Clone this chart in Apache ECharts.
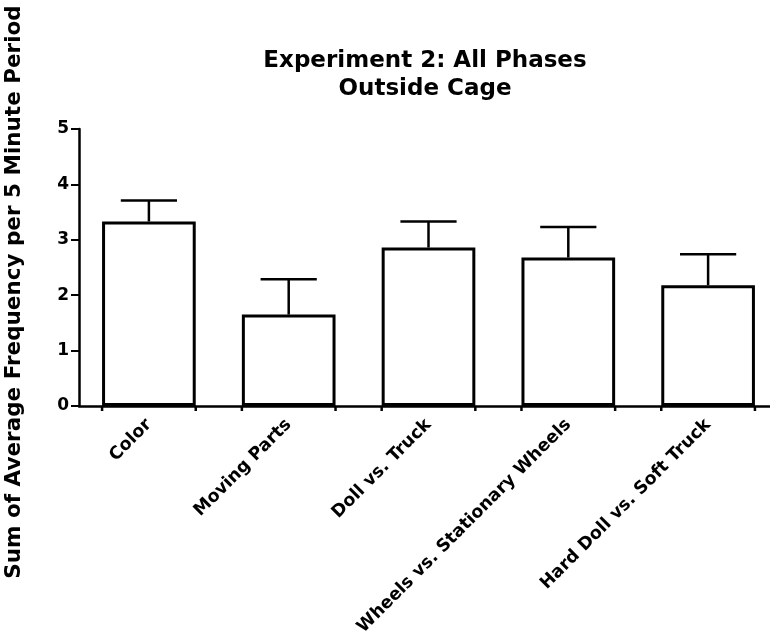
<!DOCTYPE html>
<html>
<head>
<meta charset="utf-8">
<script src="https://cdn.jsdelivr.net/npm/echarts@6/dist/echarts.min.js"></script>
<style>
  html, body { margin: 0; padding: 0; background: #fff; }
  #chart { width: 770px; height: 639px; }
</style>
</head>
<body>
<div id="chart"></div>
<script>
const categories = ["Color", "Moving Parts", "Doll vs. Truck", "Wheels vs. Stationary Wheels", "Hard Doll vs. Soft Truck"];
const means = [3.33, 1.65, 2.86, 2.68, 2.18];
const sems = [0.38, 0.64, 0.47, 0.55, 0.56];
const yTicks = [0, 1, 2, 3, 4, 5];

const font = "DejaVu Sans";
const barRatio = 0.67;

const chart = echarts.init(document.getElementById("chart"), null, { renderer: "canvas" });

chart.setOption({
  animation: false,
  backgroundColor: "#fff",
  graphic: [
    {
      type: "text",
      x: 425,
      y: 75,
      style: {
        text: "Experiment 2: All Phases\nOutside Cage",
        font: "bold 23px " + font,
        fill: "#000",
        textAlign: "center",
        textVerticalAlign: "middle",
        lineHeight: 28,
      },
    },
    {
      type: "text",
      x: 14,
      y: 292,
      rotation: Math.PI / 2,
      style: {
        text: "Sum of Average Frequency per 5 Minute Period",
        font: "bold 21.5px " + font,
        fill: "#000",
        textAlign: "center",
        textVerticalAlign: "middle",
      },
    },
  ],
  grid: { left: 79, width: 699, top: 129, bottom: 233, containLabel: false, outerBoundsMode: "none" },
  xAxis: {
    type: "category",
    data: categories,
    axisLine: { lineStyle: { color: "#000", width: 2.5 } },
    axisTick: { show: false },
    axisLabel: {
      rotate: 45,
      margin: 16,
      color: "#000",
      fontFamily: font,
      fontWeight: "bold",
      fontSize: 17.5,
      interval: 0,
    },
  },
  yAxis: {
    type: "value",
    min: yTicks[0],
    max: yTicks[yTicks.length - 1],
    interval: 1,
    splitLine: { show: false },
    axisLine: { show: true, lineStyle: { color: "#000", width: 2.5 } },
    axisTick: { show: true, length: 8, lineStyle: { color: "#000", width: 2 } },
    axisLabel: {
      margin: 10,
      color: "#000",
      fontFamily: font,
      fontWeight: "bold",
      fontSize: 17,
    },
  },
  series: [
    {
      type: "bar",
      data: means,
      barWidth: "67%",
      itemStyle: { color: "#fff", borderColor: "#000", borderWidth: 3 },
    },
    {
      type: "custom",
      z: 5,
      data: categories.map((c, i) => [i, means[i], means[i] + sems[i]]),
      renderItem: (params, api) => {
        const base = api.coord([api.value(0), 0]);
        const mid = api.coord([api.value(0), api.value(1)]);
        const top = api.coord([api.value(0), api.value(2)]);
        const bw = api.size([1, 0])[0] * barRatio;
        const cap = bw * 0.6;
        const st = { stroke: "#000", lineWidth: 2.5 };
        return {
          type: "group",
          children: [
            { type: "line", shape: { x1: mid[0], y1: mid[1], x2: top[0], y2: top[1] }, style: st },
            { type: "line", shape: { x1: top[0] - cap / 2, y1: top[1], x2: top[0] + cap / 2, y2: top[1] }, style: st },
            { type: "line", shape: { x1: base[0] - bw / 2, y1: base[1], x2: base[0] - bw / 2, y2: base[1] + 5 }, style: st },
            { type: "line", shape: { x1: base[0] + bw / 2, y1: base[1], x2: base[0] + bw / 2, y2: base[1] + 5 }, style: st },
          ],
        };
      },
    },
  ],
});
</script>
</body>
</html>
